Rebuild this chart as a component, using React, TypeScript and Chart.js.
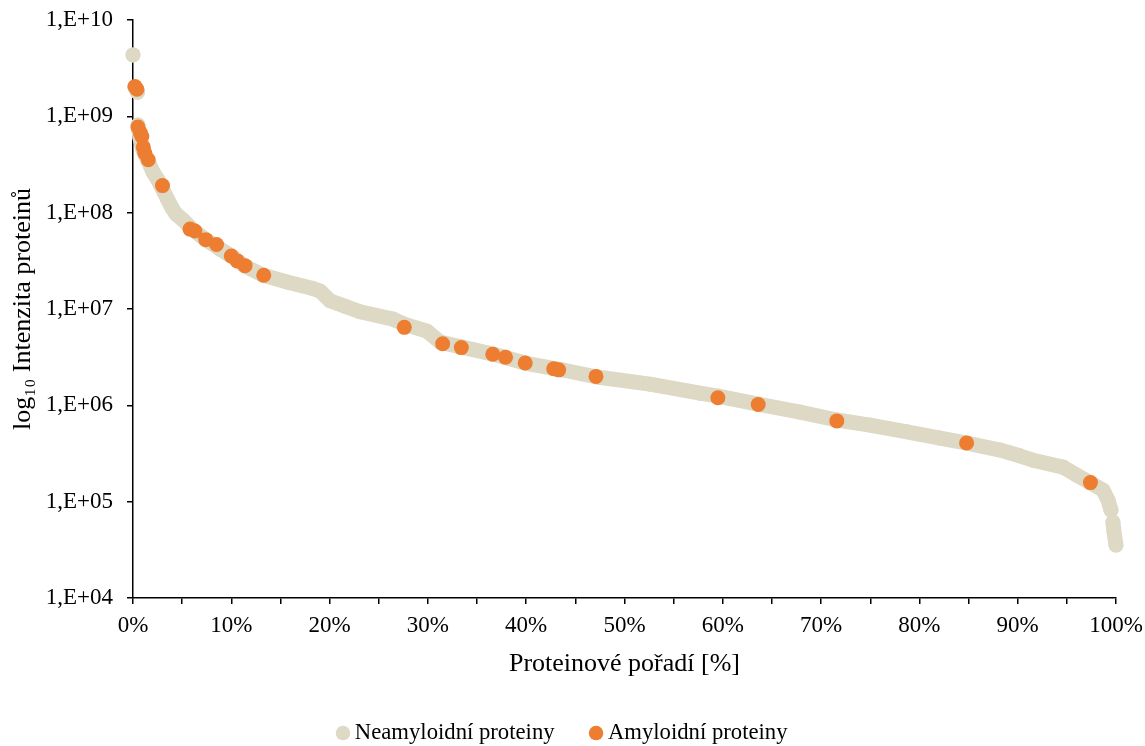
import { useEffect, useRef } from "react";
import { Chart, registerables } from "chart.js";

Chart.register(...registerables);

// Non-amyloid proteins: rank [%] and intensity (null = visible gap in the curve)
const nonAmyloidRank = [
  0.0, 0.1, 0.2, 0.45, 0.48, 0.51, 0.71, 1.02, 1.53, 2.03, 2.54, 3.05, 3.56, 3.97,
  4.37, 5.09, 6.0, 7.32, 8.85, 10.17, 11.39, 13.22, 15.67, 18.31, 19.02, 20.04,
  21.57, 23.09, 26.45, 27.57, 29.91, 31.23, 33.47, 36.62, 39.88, 43.74, 47.2,
  52.59, 57.68, 59.51, 63.58, 67.85, 71.62, 74.97, 78.74, 82.1, 84.84, 88.2,
  90.2, 91.56, 94.61, 96.0, 97.36, 98.68, 99.19, 99.49, 99.6, 99.69, 99.8, 100.0,
];
const nonAmyloidIntensity = [
  4.34e9, null, 2.0e9, 1.78e9, null, 8.13e8, 5.96e8, 4.47e8, 3.44e8, 2.64e8, 2.18e8,
  1.72e8, 1.35e8, 1.12e8, 9.68e7, 8.39e7, 6.76e7, 5.33e7, 4.2e7, 3.47e7, 2.79e7,
  2.25e7, 1.91e7, 1.63e7, 1.54e7, 1.22e7, 1.07e7, 9.38e6, 7.87e6, 6.98e6, 5.9e6,
  4.54e6, 4.03e6, 3.41e6, 2.75e6, 2.33e6, 1.97e6, 1.66e6, 1.34e6, 1.25e6, 1.03e6,
  8.53e5, 7.05e5, 6.25e5, 5.32e5, 4.58e5, 4.06e5, 3.44e5, 3.0e5, 2.7e5, 2.29e5,
  1.89e5, 1.58e5, 1.32e5, 1.04e5, 8.18e4, null, 6.15e4, 4.84e4, 3.55e4,
];

// Amyloid proteins
const amyloidRank = [
  0.2, 0.4, 0.5, 0.75, 0.9, 1.05, 1.2, 1.55, 3.0, 5.8, 6.3, 7.4, 8.5, 10.0, 10.6,
  11.4, 13.3, 27.6, 31.5, 33.4, 36.6, 37.9, 39.9, 42.8, 43.3, 47.1, 59.5, 63.6,
  71.6, 84.8, 97.4,
];
const amyloidIntensity = [
  2.04e9, 1.91e9, 7.76e8, 6.76e8, 6.17e8, 4.79e8, 4.17e8, 3.55e8, 1.91e8, 6.76e7,
  6.46e7, 5.25e7, 4.68e7, 3.55e7, 3.16e7, 2.82e7, 2.24e7, 6.46e6, 4.37e6, 3.98e6,
  3.39e6, 3.16e6, 2.75e6, 2.4e6, 2.34e6, 2.0e6, 1.2e6, 1.02e6, 6.9e5, 4.07e5, 1.58e5,
];

const yTickValues = [1e4, 1e5, 1e6, 1e7, 1e8, 1e9, 1e10];

const seriesLabels = ["Neamyloidní proteiny", "Amyloidní proteiny"];
const xTitle = "Proteinové pořadí [%]";
const yTitle = "log₁₀ Intenzita proteinů";

const BEIGE = "#DDD9C4";
const ORANGE = "#ED7D31";
const FONT = "'Liberation Serif', 'Times New Roman', serif";

const legendShift = {
  id: "legendShift",
  afterLayout(chart: any) {
    const l = chart.legend;
    if (l) {
      l.left += 7;
      l.right += 7;
    }
  },
};

export default function App() {
  const canvasRef = useRef<HTMLCanvasElement | null>(null);

  useEffect(() => {
    if (!canvasRef.current) return;
    Chart.defaults.font.family = FONT;
    Chart.defaults.color = "#000";

    const beigeData = nonAmyloidRank.map((x, i) => ({ x, y: nonAmyloidIntensity[i] }));
    const orangeData = amyloidRank.map((x, i) => ({ x, y: amyloidIntensity[i] }));

    const chart = new Chart(canvasRef.current, {
      type: "scatter",
      data: {
        datasets: [
          {
            label: seriesLabels[0],
            data: beigeData as any,
            showLine: true,
            spanGaps: false,
            borderColor: BEIGE,
            backgroundColor: BEIGE,
            borderWidth: 15,
            borderCapStyle: "round",
            borderJoinStyle: "round",
            pointBackgroundColor: BEIGE,
            pointBorderColor: BEIGE,
            pointBorderWidth: 0,
            pointRadius: 7.5,
            pointHoverRadius: 7.5,
            order: 2,
            clip: false as any,
          },
          {
            label: seriesLabels[1],
            data: orangeData,
            backgroundColor: ORANGE,
            borderColor: ORANGE,
            pointBackgroundColor: ORANGE,
            pointBorderWidth: 0,
            pointRadius: 7.5,
            pointHoverRadius: 7.5,
            order: 1,
            clip: false as any,
          },
        ],
      },
      plugins: [legendShift],
      options: {
        animation: false,
        responsive: true,
        maintainAspectRatio: false,
        events: [],
        layout: { autoPadding: false, padding: { left: 0, right: 29, top: 20, bottom: -8.4 } },
        plugins: {
          tooltip: { enabled: false },
          legend: {
            position: "bottom",
            labels: {
              usePointStyle: true,
              pointStyle: "circle",
              boxWidth: 1,
              boxHeight: 10.3,
              padding: 41,
              color: "#000",
              font: { family: FONT, size: 22.7 },
              sort: (a: any, b: any) => a.datasetIndex - b.datasetIndex,
            },
          },
        },
        scales: {
          x: {
            type: "linear",
            min: 0,
            max: 100,
            grid: {
              display: true,
              drawOnChartArea: false,
              drawTicks: true,
              tickLength: 6,
              color: "#000",
              lineWidth: 1.5,
            },
            border: { display: true, color: "#000", width: 1.5 },
            ticks: {
              stepSize: 5,
              autoSkip: false,
              maxRotation: 0,
              padding: 8,
              color: "#000",
              font: { family: FONT, size: 23 },
              callback: (v: any) => (Number(v) % 10 === 0 ? `${v}%` : ""),
            },
            title: {
              display: true,
              text: xTitle,
              color: "#000",
              font: { family: FONT, size: 26 },
              padding: { top: 0, bottom: 1 },
            },
            afterFit: (s: any) => {
              s.height = 82.6;
              s.paddingLeft = 0;
              s.paddingRight = 0;
            },
          },
          y: {
            type: "logarithmic",
            min: 1e4,
            max: 1e10,
            grid: {
              display: true,
              drawOnChartArea: false,
              drawTicks: true,
              tickLength: 6,
              color: "#000",
              lineWidth: 1.5,
            },
            border: { display: true, color: "#000", width: 1.5 },
            afterBuildTicks: (s: any) => {
              s.ticks = yTickValues.map((value) => ({ value }));
            },
            ticks: {
              padding: 14,
              color: "#000",
              font: { family: FONT, size: 23 },
              callback: (v: any) => {
                const e = Math.round(Math.log10(Number(v)));
                return `1,E+${String(e).padStart(2, "0")}`;
              },
            },
            title: {
              display: true,
              text: yTitle,
              color: "#000",
              font: { family: FONT, size: 26 },
              padding: { top: 8, bottom: 0 },
            },
            afterFit: (s: any) => {
              s.width = 133;
              s.paddingTop = 0;
              s.paddingBottom = 0;
            },
          },
        },
      },
    });
    return () => chart.destroy();
  }, []);

  return (
    <div
      style={{
        position: "absolute",
        left: 0,
        top: 0,
        width: 1145,
        height: 746,
        overflow: "hidden",
        background: "#fff",
      }}
    >
      <canvas ref={canvasRef} />
    </div>
  );
}
